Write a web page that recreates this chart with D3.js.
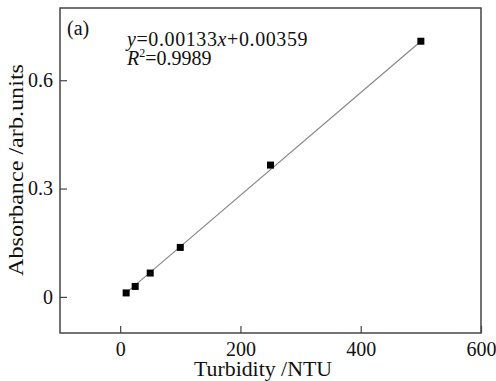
<!doctype html>
<html>
<head>
	<meta charset="UTF-8">
	<script src="https://d3js.org/d3.v7.min.js"></script>
	<style>
		body { margin: 0; background: #fff; }
		svg text { font-family: "Liberation Serif", "DejaVu Serif", serif !important; fill: #111; }
	</style>
</head>
<body>
	<script>
		// Data
		var turbidity = [10, 25, 50, 100, 250, 500];
		var absorbance = [0.011, 0.029, 0.066, 0.137, 0.365, 0.708];
		// fitted line end points (as drawn)
		var fitX = [10, 500];
		var fitY = [0.011, 0.708];
		var xTicks = [0, 200, 400, 600];
		var yTicks = [0, 0.3, 0.6];

		var width = 496, height = 381;
		var margin = {top: 8, right: 15, bottom: 48, left: 60};

		var x = d3.scaleLinear().domain([-100, 600]).range([margin.left, width - margin.right]);
		var y = d3.scaleLinear().domain([-0.1, 0.8]).range([height - margin.bottom, margin.top]);

		var svg = d3.select("body").append("svg")
			.attr("width", width)
			.attr("height", height);

		// frame
		svg.append("rect")
			.attr("x", x(-100))
			.attr("y", y(0.8))
			.attr("width", x(600) - x(-100))
			.attr("height", y(-0.1) - y(0.8))
			.attr("fill", "none")
			.attr("stroke", "#444")
			.attr("stroke-width", 1.5);

		// axes, ticks pointing inward
		var xAxis = svg.append("g")
			.attr("transform", "translate(0," + y(-0.1) + ")")
			.call(d3.axisBottom(x).tickValues(xTicks).tickSizeInner(-7).tickSizeOuter(0).tickPadding(9));
		var yAxis = svg.append("g")
			.attr("transform", "translate(" + x(-100) + ",0)")
			.call(d3.axisLeft(y).tickValues(yTicks).tickSizeInner(-7).tickSizeOuter(0).tickPadding(7)
				.tickFormat(function(d) { return d === 0 ? "0" : d3.format(".1f")(d); }));

		[xAxis, yAxis].forEach(function(a) {
			a.select(".domain").remove();
			a.selectAll("line").attr("stroke", "#444").attr("stroke-width", 1.2);
			a.selectAll("text").style("font-size", "20px").attr("fill", "#111");
		});

		// fitted line
		var line = d3.line()
			.x(function(d, i) { return x(fitX[i]); })
			.y(function(d, i) { return y(fitY[i]); });
		svg.append("path")
			.datum(fitX)
			.attr("d", line)
			.attr("fill", "none")
			.attr("stroke", "#888")
			.attr("stroke-width", 1.2);

		// points
		svg.selectAll(".pt")
			.data(turbidity)
			.enter().append("rect")
			.attr("class", "pt")
			.attr("x", function(d) { return x(d) - 3.5; })
			.attr("y", function(d, i) { return y(absorbance[i]) - 3.5; })
			.attr("width", 7)
			.attr("height", 7)
			.attr("fill", "#000");

		// axis titles
		svg.append("text")
			.attr("x", 263)
			.attr("y", 376)
			.attr("text-anchor", "middle")
			.attr("textLength", 138)
			.attr("lengthAdjust", "spacingAndGlyphs")
			.style("font-size", "20px")
			.text("Turbidity /NTU");

		svg.append("text")
			.attr("transform", "translate(23,170) rotate(-90)")
			.attr("text-anchor", "middle")
			.attr("textLength", 212)
			.attr("lengthAdjust", "spacingAndGlyphs")
			.style("font-size", "20px")
			.text("Absorbance /arb.units");

		// annotations
		svg.append("text")
			.attr("x", 67)
			.attr("y", 35)
			.style("font-size", "20px")
			.text("(a)");

		var eq = svg.append("text")
			.attr("x", 127)
			.attr("y", 46)
			.style("font-size", "20px")
			.style("letter-spacing", "0.6px");
		eq.append("tspan").style("font-style", "italic").text("y");
		eq.append("tspan").text("=0.00133");
		eq.append("tspan").style("font-style", "italic").text("x");
		eq.append("tspan").text("+0.00359");

		var r2 = svg.append("text")
			.attr("x", 127)
			.attr("y", 65)
			.style("font-size", "20px");
		r2.append("tspan").style("font-style", "italic").text("R");
		r2.append("tspan").attr("dy", -8).style("font-size", "12px").text("2");
		r2.append("tspan").attr("dy", 8).text("=0.9989");
	</script>
</body>
</html>
